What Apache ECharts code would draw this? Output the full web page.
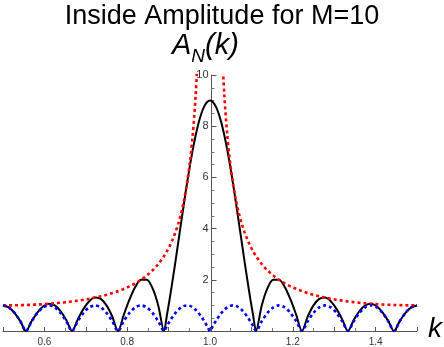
<!DOCTYPE html>
<html>
<head>
<meta charset="utf-8">
<script src="https://cdn.jsdelivr.net/npm/echarts@6/dist/echarts.min.js"></script>
<style>
  html, body { margin: 0; padding: 0; background: #fff; }
  #chart { width: 444px; height: 347px; }
</style>
</head>
<body>
<div id="chart"></div>
<script>
// k samples: every 1/72, twice as dense across the main lobe
const kValues = [
  0.5, 0.5139, 0.5278, 0.5417, 0.5556, 0.5694, 0.5833, 0.5972, 0.6111, 0.625,
  0.6389, 0.6528, 0.6667, 0.6806, 0.6944, 0.7083, 0.7222, 0.7361, 0.75, 0.7639,
  0.7778, 0.7917, 0.8056, 0.8194, 0.8333, 0.8472, 0.8611, 0.875,
  0.8889, 0.8958, 0.9028, 0.9097, 0.9167, 0.9236, 0.9306, 0.9375, 0.9444, 0.9514,
  0.9583, 0.9653, 0.9722, 0.9792, 0.9861, 0.9931, 1.0, 1.0069, 1.0139, 1.0208,
  1.0278, 1.0347, 1.0417, 1.0486, 1.0556, 1.0625, 1.0694, 1.0764, 1.0833, 1.0903,
  1.0972, 1.1042, 1.1111,
  1.125, 1.1389, 1.1528, 1.1667, 1.1806, 1.1944, 1.2083, 1.2222, 1.2361, 1.25,
  1.2639, 1.2778, 1.2917, 1.3056, 1.3194, 1.3333, 1.3472, 1.3611, 1.375, 1.3889,
  1.4028, 1.4167, 1.4306, 1.4444, 1.4583, 1.4722, 1.4861, 1.5
];

// black solid curve, A_N(k)
const amplitude = [
  1.0, 0.925, 0.710, 0.386, 0, 0.392, 0.732, 0.969, 1.064, 1.0,
  0.780, 0.431, 0, 0.454, 0.863, 1.165, 1.305, 1.253, 1.0, 0.566,
  0, 0.629, 1.233, 1.719, 2.0, 2.001, 1.673, 1.0,
  0, 0.607, 1.273, 1.985, 2.732, 3.498, 4.269, 5.027, 5.759, 6.447,
  7.078, 7.638, 8.113, 8.495, 8.773, 8.943, 9.0, 8.943, 8.773, 8.495,
  8.113, 7.638, 7.078, 6.447, 5.759, 5.027, 4.269, 3.498, 2.732, 1.985,
  1.273, 0.607, 0,
  1.0, 1.673, 2.001, 2.0, 1.719, 1.233, 0.629, 0, 0.566, 1.0,
  1.253, 1.305, 1.165, 0.863, 0.454, 0, 0.431, 0.780, 1.0, 1.064,
  0.969, 0.732, 0.392, 0, 0.386, 0.710, 0.925, 1.0
];

// red dotted envelope (goes off the top at k = 1)
const envelope = [
  1.0, 1.001, 1.004, 1.009, 1.015, 1.024, 1.035, 1.049, 1.064, 1.082,
  1.103, 1.127, 1.155, 1.186, 1.221, 1.260, 1.305, 1.356, 1.414, 1.480,
  1.556, 1.643, 1.743, 1.861, 2.0, 2.166, 2.366, 2.613,
  2.924, 3.111, 3.325, 3.574, 3.864, 4.207, 4.620, 5.126, 5.759, 6.574,
  7.661, 9.185, 11.47, 15.29, 22.93, 45.8, null, 45.8, 22.93, 15.29,
  11.47, 9.185, 7.661, 6.574, 5.759, 5.126, 4.620, 4.207, 3.864, 3.574,
  3.325, 3.111, 2.924,
  2.613, 2.366, 2.166, 2.0, 1.861, 1.743, 1.643, 1.556, 1.480, 1.414,
  1.356, 1.305, 1.260, 1.221, 1.186, 1.155, 1.127, 1.103, 1.082, 1.064,
  1.049, 1.035, 1.024, 1.015, 1.009, 1.004, 1.001, 1.0
];

// blue dotted numerator
const numerator = [
  1, 0.924, 0.707, 0.383, 0, 0.383, 0.707, 0.924, 1, 0.924,
  0.707, 0.383, 0, 0.383, 0.707, 0.924, 1, 0.924, 0.707, 0.383,
  0, 0.383, 0.707, 0.924, 1, 0.924, 0.707, 0.383,
  0, 0.195, 0.383, 0.556, 0.707, 0.831, 0.924, 0.981, 1, 0.981,
  0.924, 0.831, 0.707, 0.556, 0.383, 0.195, 0, 0.195, 0.383, 0.556,
  0.707, 0.831, 0.924, 0.981, 1, 0.981, 0.924, 0.831, 0.707, 0.556,
  0.383, 0.195, 0,
  0.383, 0.707, 0.924, 1, 0.924, 0.707, 0.383, 0, 0.383, 0.707,
  0.924, 1, 0.924, 0.707, 0.383, 0, 0.383, 0.707, 0.924, 1,
  0.924, 0.707, 0.383, 0, 0.383, 0.707, 0.924, 1
];

const xLabelsShown = ['0.6', '0.8', '1.0', '1.2', '1.4'];
const yLabelsShown = ['2', '4', '6', '8', '10'];

const FONT = '"Liberation Sans", Arial, sans-serif';

function pairs(ys) {
  return kValues.map((k, i) => [k, ys[i]]);
}

const chart = echarts.init(document.getElementById('chart'));

chart.setOption({
  animation: false,
  grid: { left: 0, right: 27, top: 75, bottom: 15.5 },
  xAxis: {
    type: 'value',
    min: 0.5,
    max: 1.5,
    interval: 0.1,
    splitLine: { show: false },
    axisLine: { onZero: false, lineStyle: { color: '#555', width: 1 } },
    axisTick: { inside: true, length: 4, lineStyle: { color: '#555' } },
    minorTick: { show: true, splitNumber: 2, length: 3, lineStyle: { color: '#777' } },
    axisLabel: {
      margin: 6,
      fontSize: 10,
      fontFamily: FONT,
      color: '#333',
      formatter: v => {
        const s = v.toFixed(1);
        return xLabelsShown.includes(s) ? s : '';
      }
    }
  },
  yAxis: {
    type: 'value',
    min: 0,
    max: 10,
    interval: 2,
    offset: -208.5,
    splitLine: { show: false },
    axisLine: { lineStyle: { color: '#555', width: 1 } },
    axisTick: { inside: true, length: 5, lineStyle: { color: '#555' } },
    minorTick: { show: true, splitNumber: 4, length: 3, lineStyle: { color: '#777' } },
    axisLabel: {
      margin: 3,
      fontSize: 11,
      fontFamily: FONT,
      color: '#333',
      formatter: v => {
        const s = String(Math.round(v));
        return yLabelsShown.includes(s) ? s : '';
      }
    }
  },
  graphic: [
    {
      type: 'text',
      left: 'center',
      top: 3,
      style: { text: 'Inside Amplitude for M=10', font: '27px ' + FONT, fill: '#000' }
    },
    {
      type: 'text',
      x: 172,
      y: 31,
      style: {
        text: '{a|A}{n|N}{a|(k)}',
        rich: {
          a: { font: 'italic 29px ' + FONT, fill: '#000', verticalAlign: 'bottom' },
          n: { font: 'italic 19px ' + FONT, fill: '#000', verticalAlign: 'bottom', padding: [0, 0, -6, 0] }
        }
      }
    },
    {
      type: 'text',
      x: 428,
      y: 315,
      style: { text: 'k', font: 'italic 28px ' + FONT, fill: '#000' }
    }
  ],
  series: [
    {
      name: 'amplitude',
      type: 'line',
      data: pairs(amplitude),
      showSymbol: false,
      smooth: 0.3,
      clip: true,
      lineStyle: { color: '#000', width: 2 },
      z: 2
    },
    {
      name: 'envelope',
      type: 'line',
      data: pairs(envelope),
      showSymbol: false,
      smooth: 0.3,
      clip: true,
      connectNulls: false,
      lineStyle: { color: '#ff0000', width: 2.6, type: [3, 3] },
      z: 3
    },
    {
      name: 'numerator',
      type: 'line',
      data: pairs(numerator),
      showSymbol: false,
      smooth: 0.3,
      clip: true,
      lineStyle: { color: '#0000ff', width: 2.6, type: [3, 3] },
      z: 4
    }
  ]
});
</script>
</body>
</html>
